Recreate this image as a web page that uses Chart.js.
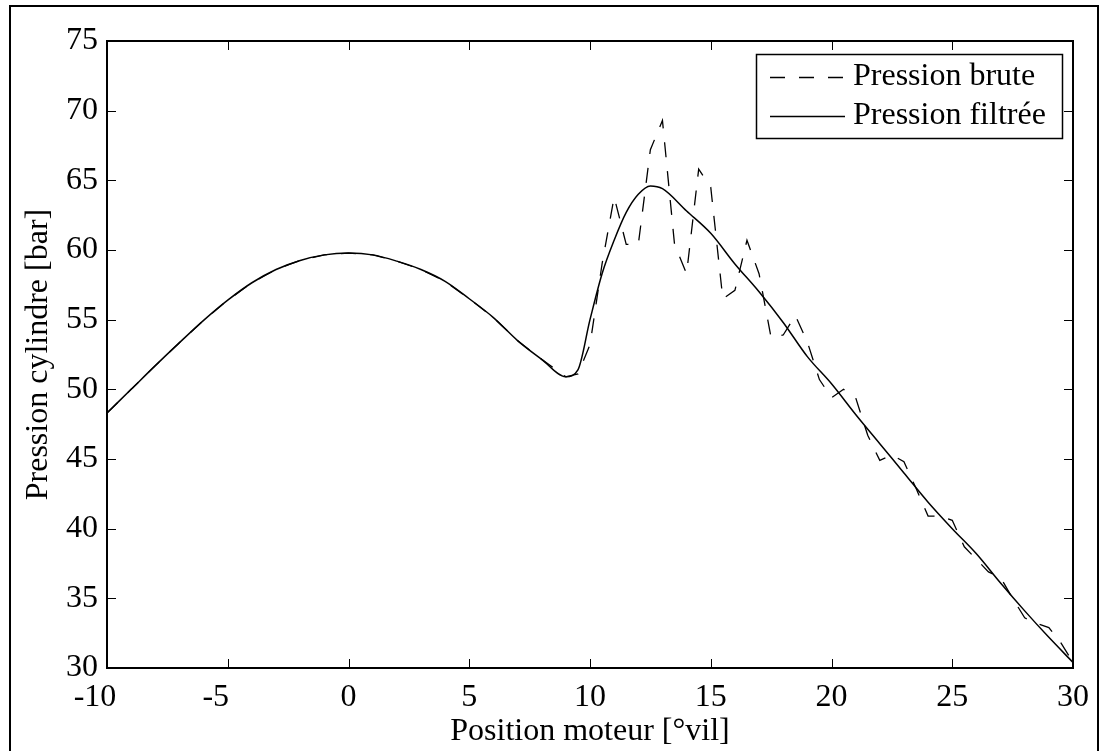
<!DOCTYPE html>
<html>
<head>
<meta charset="utf-8">
<script src="https://cdn.jsdelivr.net/npm/chart.js@4.4.1/dist/chart.umd.min.js"></script>
<style>
  html, body { margin: 0; padding: 0; background: #fff; }
  #wrap { width: 1100px; height: 751px; }
</style>
</head>
<body>
<div id="wrap"><canvas id="myChart" width="1100" height="751"></canvas></div>
<script>
const FONT = "'Liberation Serif', 'Times New Roman', serif";

// axis ticks
const xTicks = [-10, -5, 0, 5, 10, 15, 20, 25, 30];
const yTicks = [30, 35, 40, 45, 50, 55, 60, 65, 70, 75];

// filtered pressure (smooth curve)
const filteredAngle = [-10, -9, -8, -7, -6, -5, -4, -3, -2, -1, 0, 1, 2, 3, 4, 5, 6, 7, 8, 9,
  9.5, 10, 10.5, 11, 11.5, 12, 12.5, 13, 14, 15, 16, 17, 18, 19, 20, 21, 22, 23, 24, 25, 26, 27, 28, 29, 30];
const filteredPressure = [48.3, 50.0, 51.7, 53.35, 54.95, 56.4, 57.65, 58.6, 59.25, 59.65, 59.78, 59.65, 59.2, 58.6, 57.75, 56.5, 55.15, 53.5, 52.15, 50.9,
  51.4, 55.0, 58.3, 60.7, 62.7, 64.0, 64.6, 64.4, 62.8, 61.2, 59.0, 57.0, 54.8, 52.35, 50.4, 48.2, 46.1, 44.0, 41.9, 40.0, 38.2, 36.1, 34.1, 32.2, 30.4];

// raw pressure (noisy after combustion start)
const rawAngle = [-10, -9, -8, -7, -6, -5, -4, -3, -2, -1, 0, 1, 2, 3, 4, 5, 6, 7, 8, 9,
  9.5, 10, 10.5, 11, 11.5, 12, 12.5, 13, 13.5, 14, 14.5, 15, 15.5, 16, 16.5, 17, 17.5, 18, 18.5, 19, 19.5,
  20, 20.5, 21, 21.5, 22, 22.5, 23, 23.5, 24, 24.5, 25, 25.5, 26, 26.5, 27, 27.5, 28, 28.5, 29, 29.5, 30];
const rawPressure = [48.3, 50.0, 51.7, 53.35, 54.95, 56.4, 57.65, 58.6, 59.25, 59.65, 59.78, 59.65, 59.2, 58.6, 57.75, 56.5, 55.15, 53.5, 52.15, 50.9,
  51.1, 53.2, 59.0, 63.8, 60.4, 60.4, 67.2, 69.3, 60.4, 58.3, 65.8, 64.5, 56.5, 57.1, 60.7, 58.3, 53.7, 53.9, 55.3, 53.4, 50.7,
  49.4, 50.0, 49.4, 46.7, 44.9, 45.3, 44.8, 42.9, 40.9, 40.9, 40.6, 38.7, 37.8, 36.9, 36.5, 35.0, 33.6, 33.2, 32.9, 31.8, 30.4];

const seriesNames = ["Pression brute", "Pression filtrée"];

const framePlugin = {
  id: "frame",
  afterDraw(chart) {
    const { ctx, chartArea: a, scales: { x, y } } = chart;
    ctx.save();
    ctx.strokeStyle = "#000";

    // outer figure border
    ctx.lineWidth = 2;
    ctx.strokeRect(10, 6, 1088, 800);

    // axes box
    ctx.lineWidth = 2;
    ctx.strokeRect(a.left, a.top, a.right - a.left, a.bottom - a.top);

    // inward ticks on all four sides
    ctx.lineWidth = 1;
    ctx.beginPath();
    xTicks.forEach(v => {
      const px = Math.round(x.getPixelForValue(v)) + 0.5;
      ctx.moveTo(px, a.bottom); ctx.lineTo(px, a.bottom - 9);
      ctx.moveTo(px, a.top); ctx.lineTo(px, a.top + 9);
    });
    yTicks.forEach(v => {
      const py = Math.round(y.getPixelForValue(v)) + 0.5;
      ctx.moveTo(a.left, py); ctx.lineTo(a.left + 9, py);
      ctx.moveTo(a.right, py); ctx.lineTo(a.right - 9, py);
    });
    ctx.stroke();

    // legend box
    const lx = 756, ly = 54, lw = 306, lh = 84;
    ctx.fillStyle = "#fff";
    ctx.fillRect(lx, ly, lw, lh);
    ctx.lineWidth = 1.5;
    ctx.strokeRect(lx + 0.5, ly + 0.5, lw, lh);
    ctx.font = "32px " + FONT;
    ctx.textBaseline = "middle";
    ctx.textAlign = "left";
    chart.data.datasets.forEach((ds, i) => {
      const ry = ly + 23 + i * 39;
      ctx.beginPath();
      ctx.setLineDash(ds.borderDash || []);
      ctx.lineWidth = ds.borderWidth;
      ctx.moveTo(770, ry + 0.5);
      ctx.lineTo(845, ry + 0.5);
      ctx.stroke();
      ctx.setLineDash([]);
      ctx.fillStyle = "#000";
      ctx.fillText(ds.label, 853, ry);
    });
    ctx.restore();
  }
};

const ctx = document.getElementById("myChart").getContext("2d");
const myChart = new Chart(ctx, {
  type: "line",
  data: {
    datasets: [
      {
        label: seriesNames[0],
        data: rawAngle.map((a, i) => ({ x: a, y: rawPressure[i] })),
        borderColor: "#000",
        borderWidth: 1.3,
        borderDash: [15, 14],
        pointRadius: 0,
        tension: 0,
        fill: false,
      },
      {
        label: seriesNames[1],
        data: filteredAngle.map((a, i) => ({ x: a, y: filteredPressure[i] })),
        borderColor: "#000",
        borderWidth: 1.5,
        pointRadius: 0,
        cubicInterpolationMode: "monotone",
        fill: false,
      },
    ],
  },
  options: {
    responsive: false,
    animation: false,
    devicePixelRatio: 1,
    layout: { padding: { top: 41, right: 27, left: 0, bottom: 0 } },
    scales: {
      x: {
        type: "linear",
        min: -10,
        max: 30,
        afterBuildTicks: s => { s.ticks = xTicks.map(v => ({ value: v })); },
        afterFit: s => { s.height = 83; },
        grid: { display: false, drawTicks: false },
        border: { display: false },
        ticks: {
          color: "#000",
          font: { family: FONT, size: 32 },
          padding: 10,
          maxRotation: 0,
          autoSkip: false,
          callback: v => (v < 0 ? v + "   " : String(v)),
        },
        title: {
          display: true,
          text: "Position moteur [°vil]",
          color: "#000",
          font: { family: FONT, size: 32 },
          padding: { top: 0, bottom: 0 },
        },
      },
      y: {
        type: "linear",
        min: 30,
        max: 75,
        afterBuildTicks: s => { s.ticks = yTicks.map(v => ({ value: v })); },
        afterFit: s => { s.width = 107; },
        grid: { display: false, drawTicks: false },
        border: { display: false },
        ticks: {
          color: "#000",
          font: { family: FONT, size: 32 },
          padding: 9,
          autoSkip: false,
        },
        title: {
          display: true,
          text: "Pression cylindre [bar]",
          color: "#000",
          font: { family: FONT, size: 32 },
          padding: { top: 19, bottom: 0 },
        },
      },
    },
    plugins: {
      legend: { display: false },
      tooltip: { enabled: false },
    },
  },
  plugins: [framePlugin],
});
</script>
</body>
</html>
